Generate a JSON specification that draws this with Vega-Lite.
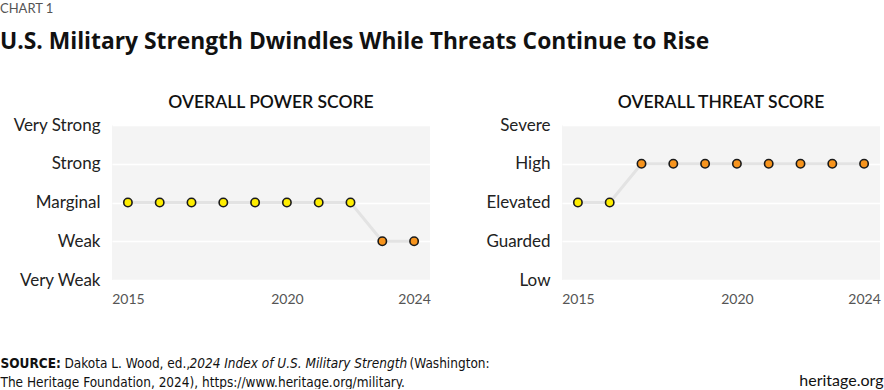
{
  "$schema": "https://vega.github.io/schema/vega-lite/v6.json",
  "background": "white",
  "padding": {"left": 0, "top": 2, "right": 1, "bottom": 0},
  "title": {
    "text": "CHART 1",
    "subtitle": "U.S. Military Strength Dwindles While Threats Continue to Rise",
    "anchor": "start",
    "font": "Lato",
    "fontSize": 13,
    "fontWeight": "normal",
    "color": "#555555",
    "subtitleFont": "Open Sans",
    "subtitleFontSize": 22.8,
    "subtitleFontWeight": "bold",
    "subtitleColor": "#111111",
    "subtitlePadding": 15,
    "offset": 40
  },
  "datasets": {
    "power": [
      {"year": 2015, "score": 2, "rating": "Marginal"},
      {"year": 2016, "score": 2, "rating": "Marginal"},
      {"year": 2017, "score": 2, "rating": "Marginal"},
      {"year": 2018, "score": 2, "rating": "Marginal"},
      {"year": 2019, "score": 2, "rating": "Marginal"},
      {"year": 2020, "score": 2, "rating": "Marginal"},
      {"year": 2021, "score": 2, "rating": "Marginal"},
      {"year": 2022, "score": 2, "rating": "Marginal"},
      {"year": 2023, "score": 1, "rating": "Weak"},
      {"year": 2024, "score": 1, "rating": "Weak"}
    ],
    "threat": [
      {"year": 2015, "score": 2, "rating": "Elevated"},
      {"year": 2016, "score": 2, "rating": "Elevated"},
      {"year": 2017, "score": 3, "rating": "High"},
      {"year": 2018, "score": 3, "rating": "High"},
      {"year": 2019, "score": 3, "rating": "High"},
      {"year": 2020, "score": 3, "rating": "High"},
      {"year": 2021, "score": 3, "rating": "High"},
      {"year": 2022, "score": 3, "rating": "High"},
      {"year": 2023, "score": 3, "rating": "High"},
      {"year": 2024, "score": 3, "rating": "High"}
    ]
  },
  "spacing": 132,
  "bounds": "flush",
  "hconcat": [
    {
      "width": 318,
      "height": 155,
      "title": {"text": "OVERALL POWER SCORE", "font": "Lato", "fontSize": 17.5, "fontWeight": 600, "color": "#111111", "offset": 5, "anchor": "middle", "frame": "group"},
      "data": {"name": "power"},
      "layer": [
        {
          "mark": {"type": "line", "color": "#e3e3e3", "strokeWidth": 3},
          "encoding": {
            "x": {
              "field": "year", "type": "quantitative",
              "scale": {"domain": [2014.5, 2024.5], "nice": false, "zero": false},
              "axis": {
                "values": [2015, 2020, 2024], "format": "d", "labelFontSize": 14, "labelColor": "#555555", "labelPadding": 12, "grid": false,
                "title": "SOURCE:", "titleFontSize": 13.5, "titleFontWeight": "bold", "titleColor": "#111111",
                "titleX": -112, "titleY": 87, "titleAlign": "left", "titleBaseline": "alphabetic", "titleAngle": 0
              }
            },
            "y": {
              "field": "score", "type": "quantitative",
              "scale": {"domain": [0, 4], "nice": false, "zero": false},
              "axis": {
                "values": [0, 1, 2, 3, 4],
                "labelExpr": "['Very Weak','Weak','Marginal','Strong','Very Strong'][datum.value]",
                "labelFontSize": 17, "labelColor": "#222222", "labelPadding": 12,
                "grid": true, "gridColor": "#ffffff", "gridWidth": 1.5,
                "title": "The Heritage Foundation, 2024), https://www.heritage.org/military.",
                "titleFontSize": 13.5, "titleFontWeight": "normal", "titleColor": "#111111",
                "titleX": -112, "titleY": 261, "titleAngle": 0, "titleAlign": "left", "titleBaseline": "alphabetic"
              }
            }
          }
        },
        {
          "mark": {"type": "point", "filled": true, "size": 70, "stroke": "#1a1a1a", "strokeWidth": 1.6, "opacity": 1},
          "encoding": {
            "x": {
              "field": "year", "type": "quantitative",
              "axis": {
                "orient": "bottom", "labels": false, "ticks": false, "domain": false, "grid": false,
                "title": "Dakota L. Wood, ed.,", "titleFontSize": 13.5, "titleFontWeight": "normal", "titleColor": "#111111",
                "titleX": -48, "titleY": 87, "titleAlign": "left", "titleBaseline": "alphabetic", "titleAngle": 0
              }
            },
            "y": {
              "field": "score", "type": "quantitative",
              "axis": {
                "orient": "left", "labels": false, "ticks": false, "domain": false, "grid": false,
                "title": "(Washington:", "titleFontSize": 13.5, "titleFontWeight": "normal", "titleColor": "#111111",
                "titleX": 297, "titleY": 242, "titleAngle": 0, "titleAlign": "left", "titleBaseline": "alphabetic"
              }
            },
            "fill": {"field": "rating", "type": "nominal", "scale": {"domain": ["Marginal", "Weak"], "range": ["#FFEE00", "#F7941D"]}, "legend": null}
          }
        }
      ],
      "resolve": {"axis": {"x": "independent", "y": "independent"}}
    },
    {
      "width": 318,
      "height": 155,
      "title": {"text": "OVERALL THREAT SCORE", "font": "Lato", "fontSize": 17.5, "fontWeight": 600, "color": "#111111", "offset": 5, "anchor": "middle", "frame": "group"},
      "data": {"name": "threat"},
      "encoding": {
        "x": {
          "field": "year", "type": "quantitative",
          "scale": {"domain": [2014.5, 2024.5], "nice": false, "zero": false},
          "axis": {
            "values": [2015, 2020, 2024], "format": "d", "labelFontSize": 14, "labelColor": "#555555", "labelPadding": 12, "grid": false,
            "title": "heritage.org", "titleFont": "Lato", "titleFontSize": 16, "titleFontWeight": "normal", "titleColor": "#111111",
            "titleX": 321, "titleY": 105, "titleAlign": "right", "titleBaseline": "alphabetic", "titleAngle": 0
          }
        },
        "y": {
          "field": "score", "type": "quantitative",
          "scale": {"domain": [0, 4], "nice": false, "zero": false},
          "axis": {
            "values": [0, 1, 2, 3, 4],
            "labelExpr": "['Low','Guarded','Elevated','High','Severe'][datum.value]",
            "labelFontSize": 17, "labelColor": "#222222", "labelPadding": 12,
            "grid": true, "gridColor": "#ffffff", "gridWidth": 1.5,
            "title": "2024 Index of U.S. Military Strength",
            "titleFontSize": 13.5, "titleFontWeight": "normal", "titleFontStyle": "italic", "titleColor": "#111111",
            "titleX": -373, "titleY": 242, "titleAngle": 0, "titleAlign": "left", "titleBaseline": "alphabetic"
          }
        }
      },
      "layer": [
        {"mark": {"type": "line", "color": "#e3e3e3", "strokeWidth": 3}},
        {
          "mark": {"type": "point", "filled": true, "size": 70, "stroke": "#1a1a1a", "strokeWidth": 1.6, "opacity": 1},
          "encoding": {
            "fill": {"field": "rating", "type": "nominal", "scale": {"domain": ["Elevated", "High"], "range": ["#FFEE00", "#F7941D"]}, "legend": null}
          }
        }
      ]
    }
  ],
  "config": {
    "view": {"fill": "#f4f4f4", "stroke": null},
    "axis": {"domain": false, "ticks": false, "labelFont": "Lato", "titleFont": "Liberation Sans Narrow, DejaVu Sans Condensed, sans-serif"},
    "title": {"font": "Lato"}
  }
}
